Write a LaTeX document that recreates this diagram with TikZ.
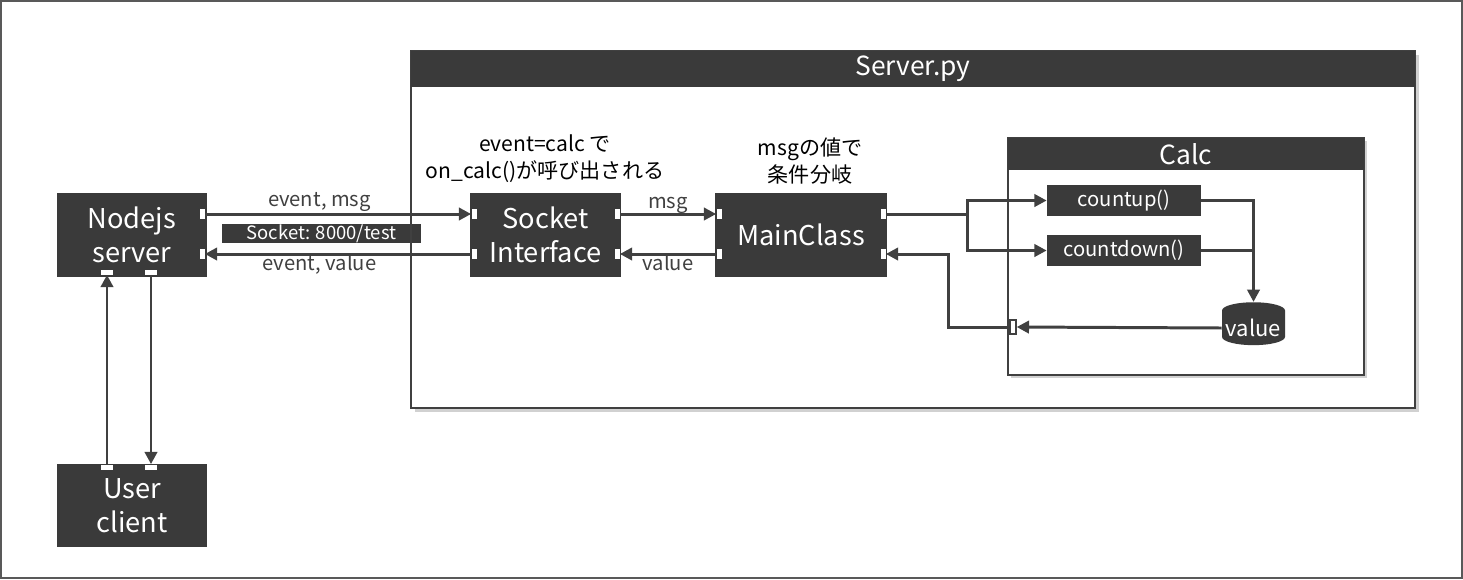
\documentclass[tikz,border=0pt]{standalone}
\usepackage{fontspec}
\setmainfont{Noto Sans CJK JP}
\usetikzlibrary{arrows.meta, positioning, shapes.geometric}

\definecolor{boxgray}{HTML}{3A3A3A}
\definecolor{linegray}{HTML}{404040}

\tikzset{
  darkbox/.style={fill=boxgray, text=white, inner sep=0pt, align=center},
  bigtext/.style={font=\fontsize{15.5}{19.5}\selectfont},
  smalltext/.style={font=\fontsize{11.5}{14}\selectfont, text=linegray},
  sideport/.style={fill=white, inner sep=0pt, minimum width=0.1cm, minimum height=0.2cm},
  botport/.style={fill=white, inner sep=0pt, minimum width=0.24cm, minimum height=0.1cm},
  flow/.style={draw=linegray, line width=1.7pt, -{Triangle[length=7pt,width=7pt]}},
  line/.style={draw=linegray, line width=1.7pt},
  frame/.style={draw=linegray, line width=1.2pt},
  shadow/.style={fill=black!18},
}

\begin{document}
\begin{tikzpicture}[x=0.02cm, y=-0.02cm]
  % Background
  \useasboundingbox (0,0) rectangle (1463,579);
  \draw[gray!70!black, line width=1pt] (1,1) rectangle (1462,578);

  % Server.py
  \fill[shadow] (415,55) rectangle (1419,412);
  \fill[white] (411,51) rectangle (1415,408);
  \node[darkbox, font=\fontsize{10.5}{12}\selectfont, minimum width=3.98cm, minimum height=0.38cm] (addr) at (321.5,233.5) {Socket: 8000/test};
  \draw[frame] (411,51) rectangle (1415,408);
  \fill[boxgray] (411,51) rectangle (1415,87);
  \node[text=white, font=\fontsize{15}{16}\selectfont] (srvtitle) at (913,69) {Server.py};

  % Calc
  \fill[shadow] (1011,141) rectangle (1367,378);
  \draw[frame, fill=white] (1008,138) rectangle (1364,375);
  \fill[boxgray] (1008,138) rectangle (1364,170);
  \node[text=white, font=\fontsize{15}{16}\selectfont] (calctitle) at (1186,154) {Calc};

  % Main boxes
  \node[darkbox, bigtext, minimum width=3cm, minimum height=1.68cm] (node) at (132,235) {Nodejs\\server};
  \node[darkbox, bigtext, minimum width=3cm, minimum height=1.66cm] (user) at (132,505.5) {User\\client};
  \node[darkbox, bigtext, minimum width=3.02cm, minimum height=1.68cm] (sock) at (545.5,235) {Socket\\Interface};
  \node[darkbox, bigtext, minimum width=3.44cm, minimum height=1.68cm] (main) at (801,235) {MainClass};

  % Calc members
  \node[darkbox, font=\fontsize{11.5}{12}\selectfont, minimum width=3.08cm, minimum height=0.62cm] (up) at (1124,200.5) {countup()};
  \node[darkbox, font=\fontsize{11.5}{12}\selectfont, minimum width=3.08cm, minimum height=0.62cm] (down) at (1124,250.5) {countdown()};
  \node[cylinder, shape border rotate=90, aspect=0.3, fill=boxgray, text=white, inner sep=0pt,
        minimum width=1.26cm, minimum height=0.85cm, font=\fontsize{12.5}{12}\selectfont] (val) at (1253.5,328) {value};

  % Ports
  \node[sideport] (nodeo) at (202,214) {};
  \node[sideport] (nodei) at (202,254) {};
  \node[sideport] (socki) at (474,214) {};
  \node[sideport] (socko) at (474,254) {};
  \node[sideport] (sockr) at (617,214) {};
  \node[sideport] (sockb) at (617,254) {};
  \node[sideport] (maini) at (719,214) {};
  \node[sideport] (maino) at (719,254) {};
  \node[sideport] (mainr) at (883,214) {};
  \node[sideport] (mainb) at (883,254) {};
  \node[botport] (nodeup) at (107,272) {};
  \node[botport] (nodedn) at (151,272) {};
  \node[botport] (userup) at (107,467) {};
  \node[botport] (userdn) at (151,467) {};
  \node[sideport, draw=linegray, line width=0.8pt, minimum width=0.12cm, minimum height=0.28cm] (calcin) at (1013,327) {};

  % Notes
  \node[font=\fontsize{12}{15.5}\selectfont, align=center] (note1) at (545,159) {event=calc で\\on\_calc()が呼び出される};
  \node[font=\fontsize{12}{15.5}\selectfont, align=center] (note2) at (810,161) {msgの値で\\条件分岐};

  % Nodejs <-> Socket
  \draw[flow] (nodeo.east) -- node[smalltext, above=-2.5pt, pos=0.43] (lbl1) {event, msg} (socki.west);
  \draw[flow] (socko.west) -- node[smalltext, below=-4pt, pos=0.57] (lbl2) {event, value} (nodei.east);

  % Socket <-> MainClass
  \draw[flow] (sockr.east) -- node[smalltext, above=-4pt] (lbl3) {msg} (maini.west);
  \draw[flow] (maino.west) -- node[smalltext, below=-4pt] (lbl4) {value} (sockb.east);

  % MainClass -> Calc
  \coordinate (fork) at (967,214);
  \draw[line] (mainr.east) -- (fork);
  \draw[flow] (fork) |- (up.west);
  \draw[flow] (fork) |- (down.west);
  \coordinate (join) at (1253,250.5);
  \draw[flow] (up.east) -| (val.top);
  \draw[line] (down.east) -- (join);

  % value -> MainClass
  \draw[flow] (val.west) -- (calcin.east);
  \draw[flow] (calcin.west) -- ++(-61,0) |- (mainb.east);

  % User <-> Nodejs
  \draw[flow] (userup.north) -- (nodeup.south);
  \draw[flow] (nodedn.south) -- (userdn.north);
\end{tikzpicture}
\end{document}
